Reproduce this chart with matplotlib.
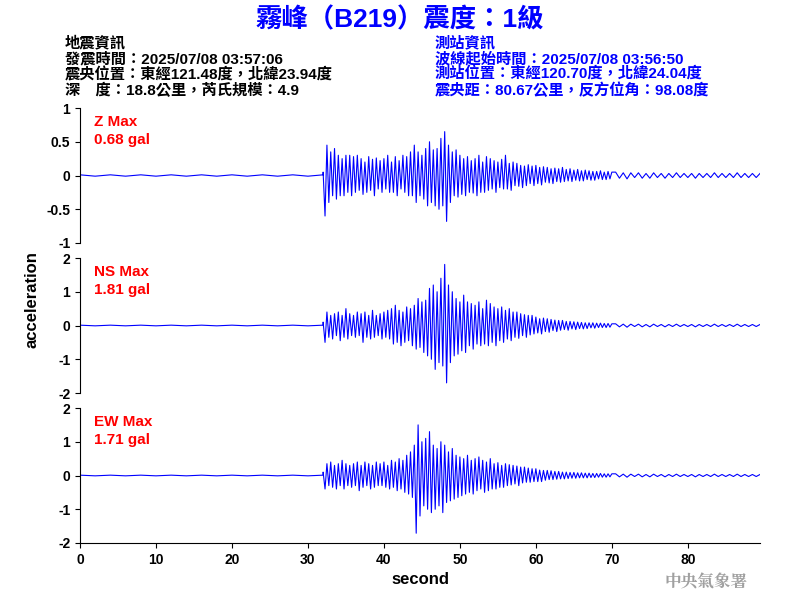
import numpy as np
import matplotlib
matplotlib.use("Agg")
import matplotlib.pyplot as plt

plt.rcParams['font.family'] = ['Liberation Sans', 'Noto Sans CJK TC', 'DejaVu Sans']

# values in 0.01 gal; pre-event (step 2 s from 0), main (step 0.25 s from 32), tail (step 0.5 s from 70.5)
pre = [1,-1,1,-1,1,-1,1,-1,1,-1,1,-1,1,-1,1,-1,1]
z_main = [5,-60,45,-40,35,-30,40,-35,30,-30,25,-30,30,-25,30,-30,
          28,-25,30,-22,25,-28,20,-25,28,-22,24,-30,26,-20,22,-25,
          25,-20,30,-25,20,-25,28,-30,22,-20,30,-25,28,-30,35,-30,
          45,-40,35,-30,30,-35,40,-45,50,-40,38,-45,40,-50,55,-45,
          65,-68,45,-40,35,-30,38,-32,30,-28,25,-30,28,-25,22,-26,
          25,-30,30,-25,20,-25,28,-22,25,-20,22,-25,20,-18,24,-20,
          30,-20,18,-22,20,-15,18,-16,15,-18,14,-15,16,-12,14,-15,
          15,-12,12,-14,13,-10,12,-11,10,-12,11,-9,10,-10,12,-9,
          9,-8,10,-9,8,-7,9,-8,7,-8,8,-6,7,-7,6,-7,
          6,-5,7,-6,5,-6,6,-5,5]
ns_main = [10,-50,40,-35,30,-40,35,-30,40,-45,30,-35,50,-40,35,-30,
           30,-35,40,-30,35,-50,40,-35,30,-40,45,-35,30,-30,35,-40,
           40,-35,45,-40,50,-55,60,-50,45,-60,40,-50,55,-45,50,-60,
           60,-70,80,-65,70,-80,75,-90,110,-100,120,-130,100,-110,140,-120,
           181,-170,120,-110,100,-90,80,-85,70,-75,90,-80,70,-60,65,-70,
           60,-55,70,-60,50,-55,75,-60,65,-50,55,-60,50,-45,55,-50,
           45,-40,50,-45,40,-35,40,-38,35,-30,32,-35,30,-28,30,-25,
           25,-22,20,-25,22,-18,20,-20,18,-15,16,-18,15,-14,15,-12,
           12,-14,12,-10,11,-12,10,-9,9,-10,8,-9,8,-7,8,-8,
           7,-6,7,-6,6,-6,6,-5,5]
ew_main = [10,-40,35,-30,40,-35,30,-40,35,-30,45,-40,35,-30,30,-35,
           35,-30,40,-45,30,-35,40,-30,35,-40,30,-35,40,-30,35,-30,
           40,-35,30,-40,45,-35,40,-45,50,-40,45,-50,60,-55,70,-65,
           90,-171,150,-120,100,-90,110,-100,130,-110,90,-100,80,-90,100,-110,
           90,-80,70,-75,80,-70,60,-65,55,-60,50,-55,60,-50,45,-55,
           50,-45,55,-40,45,-50,40,-45,50,-40,35,-40,38,-35,30,-35,
           35,-30,32,-28,30,-25,28,-30,25,-22,25,-20,22,-20,20,-18,
           20,-18,16,-18,15,-14,15,-12,14,-12,12,-11,12,-10,10,-10,
           10,-9,9,-8,9,-8,8,-7,8,-7,7,-7,7,-6,6,-6,
           6,-5,6,-5,5,-5,5,-4,5]
tail = [5,-4,4,-5,4,-3,4,-4,3,-4,4,-3,3,-4,3,-3,4,-3,3,-3,3,-4,3,-3,3,-3,4,-3,3,-3,3,-3,4,-3,3,-3,3,-3,3]

channels = ["Z", "NS", "EW"]
maxima = ["0.68", "1.81", "1.71"]
series = [z_main, ns_main, ew_main]
ylims = [1, 2, 2]
yticks = [[-1,-0.5,0,0.5,1], [-2,-1,0,1,2], [-2,-1,0,1,2]]

fig = plt.figure(figsize=(8, 6), dpi=100)
blue = '#0000ff'
mix = ['Liberation Sans', 'Noto Sans CJK TC', 'DejaVu Sans']
fig.text(0.5, 0.967, "霧峰（B219）震度：1級", ha='center', va='center', color=blue,
         fontsize=19, fontweight='bold', family=mix)
left = ["地震資訊", "發震時間：2025/07/08 03:57:06", "震央位置：東經121.48度，北緯23.94度",
        "深　度：18.8公里，芮氏規模：4.9"]
right = ["測站資訊", "波線起始時間：2025/07/08 03:56:50", "測站位置：東經120.70度，北緯24.04度",
         "震央距：80.67公里，反方位角：98.08度"]
for i, (a, b) in enumerate(zip(left, right)):
    y = 1 - (43 + i * 15.8) / 600
    fig.text(65/800, y, a, color='black', fontsize=11, fontweight='bold', va='center', family=mix)
    fig.text(435/800, y, b, color=blue, fontsize=11, fontweight='bold', va='center', family=mix)

bottoms = [0.595, 0.345, 0.095]
for k in range(3):
    ax = fig.add_axes([0.1, bottoms[k], 0.85, 0.225])
    t = np.concatenate([np.arange(len(pre)) * 2.0, 32 + 0.25 * np.arange(len(series[k])),
                        70.5 + 0.5 * np.arange(len(tail))])
    v = np.concatenate([pre, series[k], tail]) / 100.0
    ax.plot(t, v, color=blue, lw=0.8)
    ax.set_xlim(0, 89.5)
    ax.set_ylim(-ylims[k], ylims[k])
    ax.set_yticks(yticks[k])
    ax.set_yticklabels([f"{y:g}" for y in yticks[k]], fontsize=10, fontweight='bold')
    ax.spines['top'].set_visible(False)
    ax.spines['right'].set_visible(False)
    ax.text(0.02, 0.9, f"{channels[k]} Max", transform=ax.transAxes, color='red',
            fontsize=11, fontweight='bold', va='center')
    ax.text(0.02, 0.76, f"{maxima[k]} gal", transform=ax.transAxes, color='red',
            fontsize=11, fontweight='bold', va='center')
    if k < 2:
        ax.spines['bottom'].set_visible(False)
        ax.set_xticks([])
    else:
        xt = [0, 10, 20, 30, 40, 50, 60, 70, 80]
        ax.set_xticks(xt)
        ax.set_xticklabels([str(x) for x in xt], fontsize=10, fontweight='bold')
        ax.set_xlabel("second", fontsize=12, fontweight='bold')
fig.text(32/800, 0.5, "acceleration", rotation=90, ha='center', va='center',
         fontsize=12, fontweight='bold')
fig.text(0.935, 0.03, "中央氣象署", ha='right', va='center', color='#a0a0a0',
         fontsize=12, fontweight='bold', family=['Noto Serif CJK TC', 'Noto Sans CJK TC'])
fig.savefig("out.png")
